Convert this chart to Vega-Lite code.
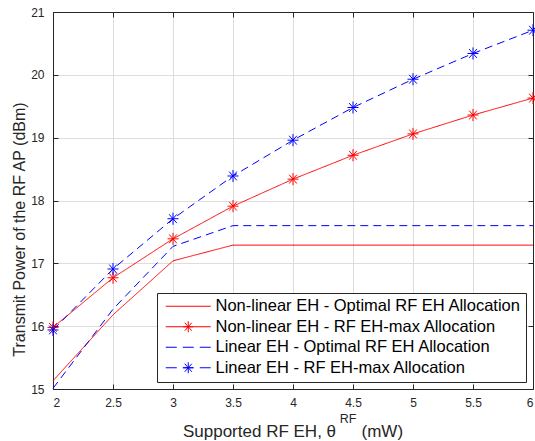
{
  "$schema": "https://vega.github.io/schema/vega-lite/v6.json",
  "width": 480,
  "height": 377,
  "autosize": {"type": "none"},
  "padding": {"left": 53, "top": 12, "right": 2, "bottom": 52},
  "background": "white",
  "config": {
    "view": {"stroke": null},
    "font": "Liberation Sans",
    "legend": {
      "orient": "none",
      "legendX": 104,
      "legendY": 281,
      "padding": 5,
      "rowPadding": 3.5,
      "labelFont": "Liberation Sans",
      "labelFontSize": 16.5,
      "labelColor": "#000000",
      "labelLimit": 0,
      "symbolSize": 100,
      "symbolOffset": 18,
      "labelOffset": 19,
      "symbolStrokeWidth": 1,
      "symbolOpacity": 1,
      "strokeColor": "#262626",
      "fillColor": "white"
    }
  },
  "data": {
    "values": [
      {"x": 2, "y": 15.13, "series": "Non-linear EH - Optimal RF EH Allocation"},
      {"x": 2.5, "y": 16.18, "series": "Non-linear EH - Optimal RF EH Allocation"},
      {"x": 3, "y": 17.04, "series": "Non-linear EH - Optimal RF EH Allocation"},
      {"x": 3.5, "y": 17.29, "series": "Non-linear EH - Optimal RF EH Allocation"},
      {"x": 4, "y": 17.29, "series": "Non-linear EH - Optimal RF EH Allocation"},
      {"x": 4.5, "y": 17.29, "series": "Non-linear EH - Optimal RF EH Allocation"},
      {"x": 5, "y": 17.29, "series": "Non-linear EH - Optimal RF EH Allocation"},
      {"x": 5.5, "y": 17.29, "series": "Non-linear EH - Optimal RF EH Allocation"},
      {"x": 6, "y": 17.29, "series": "Non-linear EH - Optimal RF EH Allocation"},
      {"x": 2, "y": 15.98, "series": "Non-linear EH - RF EH-max Allocation"},
      {"x": 2.5, "y": 16.77, "series": "Non-linear EH - RF EH-max Allocation"},
      {"x": 3, "y": 17.39, "series": "Non-linear EH - RF EH-max Allocation"},
      {"x": 3.5, "y": 17.91, "series": "Non-linear EH - RF EH-max Allocation"},
      {"x": 4, "y": 18.34, "series": "Non-linear EH - RF EH-max Allocation"},
      {"x": 4.5, "y": 18.72, "series": "Non-linear EH - RF EH-max Allocation"},
      {"x": 5, "y": 19.06, "series": "Non-linear EH - RF EH-max Allocation"},
      {"x": 5.5, "y": 19.36, "series": "Non-linear EH - RF EH-max Allocation"},
      {"x": 6, "y": 19.63, "series": "Non-linear EH - RF EH-max Allocation"},
      {"x": 2, "y": 15.01, "series": "Linear EH - Optimal RF EH Allocation"},
      {"x": 2.5, "y": 16.27, "series": "Linear EH - Optimal RF EH Allocation"},
      {"x": 3, "y": 17.27, "series": "Linear EH - Optimal RF EH Allocation"},
      {"x": 3.5, "y": 17.6, "series": "Linear EH - Optimal RF EH Allocation"},
      {"x": 4, "y": 17.6, "series": "Linear EH - Optimal RF EH Allocation"},
      {"x": 4.5, "y": 17.6, "series": "Linear EH - Optimal RF EH Allocation"},
      {"x": 5, "y": 17.6, "series": "Linear EH - Optimal RF EH Allocation"},
      {"x": 5.5, "y": 17.6, "series": "Linear EH - Optimal RF EH Allocation"},
      {"x": 6, "y": 17.6, "series": "Linear EH - Optimal RF EH Allocation"},
      {"x": 2, "y": 15.94, "series": "Linear EH - RF EH-max Allocation"},
      {"x": 2.5, "y": 16.91, "series": "Linear EH - RF EH-max Allocation"},
      {"x": 3, "y": 17.71, "series": "Linear EH - RF EH-max Allocation"},
      {"x": 3.5, "y": 18.39, "series": "Linear EH - RF EH-max Allocation"},
      {"x": 4, "y": 18.96, "series": "Linear EH - RF EH-max Allocation"},
      {"x": 4.5, "y": 19.48, "series": "Linear EH - RF EH-max Allocation"},
      {"x": 5, "y": 19.93, "series": "Linear EH - RF EH-max Allocation"},
      {"x": 5.5, "y": 20.34, "series": "Linear EH - RF EH-max Allocation"},
      {"x": 6, "y": 20.71, "series": "Linear EH - RF EH-max Allocation"}
    ]
  },
  "layer": [
    {
      "mark": {"type": "line", "strokeWidth": 1},
      "encoding": {
        "x": {
          "field": "x", "type": "quantitative",
          "scale": {"domain": [2, 6], "nice": false, "zero": false},
          "axis": {
            "orient": "bottom",
            "values": [2, 2.5, 3, 3.5, 4, 4.5, 5, 5.5, 6],
            "format": "~g",
            "grid": true, "gridColor": "#dedede", "gridWidth": 1,
            "domainColor": "#262626", "tickColor": "#262626", "tickSize": -5,
            "labelPadding": 13, "labelFontSize": 12, "labelColor": "#262626", "labelFont": "Liberation Sans",
            "title": "Supported RF EH, θ\u2002\u2002\u2002(mW)",
            "titleFont": "Liberation Sans", "titleFontSize": 17, "titleFontWeight": "normal", "titleColor": "#262626",
            "titleX": 239.5, "titleY": 47, "titleAlign": "center", "titleBaseline": "alphabetic"
          }
        },
        "y": {
          "field": "y", "type": "quantitative",
          "scale": {"domain": [15, 21], "nice": false, "zero": false},
          "axis": {
            "orient": "left",
            "values": [15, 16, 17, 18, 19, 20, 21],
            "format": "d",
            "grid": true, "gridColor": "#dedede", "gridWidth": 1,
            "domainColor": "#262626", "tickColor": "#262626", "tickSize": -5,
            "labelPadding": 14, "labelFontSize": 12, "labelColor": "#262626", "labelFont": "Liberation Sans",
            "title": "Transmit Power of the RF AP (dBm)",
            "titleFont": "Liberation Sans", "titleFontSize": 16, "titleFontWeight": "normal", "titleColor": "#262626",
            "titleX": -26, "titleY": 217, "titleAngle": 270, "titleAlign": "center", "titleBaseline": "bottom"
          }
        },
        "stroke": {
          "field": "series", "type": "nominal",
          "scale": {
            "domain": ["Linear EH - Optimal RF EH Allocation", "Linear EH - RF EH-max Allocation", "Non-linear EH - Optimal RF EH Allocation", "Non-linear EH - RF EH-max Allocation"],
            "range": ["#0000ff", "#0000ff", "#ff0000", "#ff0000"]
          },
          "legend": null
        },
        "strokeDash": {
          "field": "series", "type": "nominal",
          "scale": {
            "domain": ["Linear EH - RF EH-max Allocation", "Linear EH - Optimal RF EH Allocation", "Non-linear EH - RF EH-max Allocation", "Non-linear EH - Optimal RF EH Allocation"],
            "range": [[8, 5], [8, 5], [1, 0], [1, 0]]
          },
          "legend": null
        }
      }
    },
    {
      "transform": [{"filter": "indexof(datum.series, 'EH-max') >= 0"}],
      "mark": {
        "type": "point",
        "shape": "M-1,0H1M0,-1.1V1.1M-0.7,-0.8L0.7,0.8M-0.7,0.8L0.7,-0.8",
        "size": 121, "filled": false, "strokeWidth": 1, "opacity": 1
      },
      "encoding": {
        "x": {
          "field": "x", "type": "quantitative",
          "axis": {
            "orient": "top",
            "values": [2, 2.5, 3, 3.5, 4, 4.5, 5, 5.5, 6],
            "labels": false, "grid": false,
            "domainColor": "#262626", "tickColor": "#262626", "tickSize": -5,
            "title": "RF",
            "titleFont": "Liberation Sans", "titleFontSize": 12.5, "titleFontWeight": "normal", "titleColor": "#262626",
            "titleX": 294.5, "titleY": 410.5, "titleAlign": "center", "titleBaseline": "alphabetic", "titleAngle": 0
          }
        },
        "y": {
          "field": "y", "type": "quantitative",
          "axis": {
            "orient": "right",
            "values": [15, 16, 17, 18, 19, 20, 21],
            "labels": false, "grid": false, "title": null,
            "domainColor": "#262626", "tickColor": "#262626", "tickSize": -5
          }
        },
        "stroke": {"field": "series", "type": "nominal", "legend": null}
      }
    },
    {
      "mark": {"type": "point", "filled": false, "strokeWidth": 1, "opacity": 0},
      "encoding": {
        "x": {"field": "x", "type": "quantitative", "axis": null},
        "y": {"field": "y", "type": "quantitative", "axis": null},
        "color": {
          "field": "series", "type": "nominal",
          "scale": {
            "domain": ["Non-linear EH - Optimal RF EH Allocation", "Non-linear EH - RF EH-max Allocation", "Linear EH - Optimal RF EH Allocation", "Linear EH - RF EH-max Allocation"],
            "range": ["#ff0000", "#ff0000", "#0000ff", "#0000ff"]
          },
          "legend": {"title": null, "encode": {"symbols": {"opacity": {"value": 1}}}}
        },
        "shape": {
          "field": "series", "type": "nominal",
          "scale": {
            "domain": ["Non-linear EH - Optimal RF EH Allocation", "Non-linear EH - RF EH-max Allocation", "Linear EH - Optimal RF EH Allocation", "Linear EH - RF EH-max Allocation"],
            "range": [
              "M-4.5,0H4.5",
              "M-4.5,0H4.5M-1,0H1M0,-1.1V1.1M-0.7,-0.8L0.7,0.8M-0.7,0.8L0.7,-0.8",
              "M-4.5,0H-2.3M-1.1,0H1.1M2.3,0H4.5",
              "M-4.5,0H-2.3M-1.1,0H1.1M2.3,0H4.5M-1,0H1M0,-1.1V1.1M-0.7,-0.8L0.7,0.8M-0.7,0.8L0.7,-0.8"
            ]
          },
          "legend": {"title": null, "encode": {"symbols": {"opacity": {"value": 1}}}}
        }
      }
    }
  ],
  "resolve": {"axis": {"x": "independent", "y": "independent"}}
}
